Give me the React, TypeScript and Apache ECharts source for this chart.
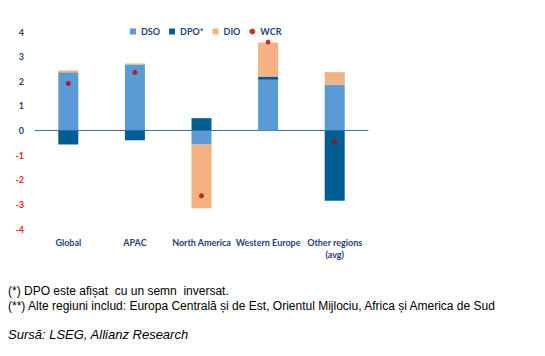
import React, { useEffect, useRef } from "react";
import * as echarts from "echarts";

const categories = ["Global", "APAC", "North America", "Western Europe", "Other regions\n(avg)"];
const dso = [2.37, 2.68, -0.57, 2.06, 1.87];
const dpo = [-0.57, -0.4, 0.5, 0.13, -2.85];
const dio = [0.07, 0.04, -2.59, 1.38, 0.5];
const wcr = [1.91, 2.36, -2.65, 3.59, -0.46];
const footnotes = [
  "(*) DPO este afișat  cu un semn  inversat.",
  "(**) Alte regiuni includ: Europa Centrală și de Est, Orientul Mijlociu, Africa și America de Sud",
];
const sourceText = "Sursă: LSEG, Allianz Research";

export default function App() {
  const ref = useRef<HTMLDivElement>(null);
  useEffect(() => {
    if (!ref.current) return;
    const chart = echarts.init(ref.current, null, { renderer: "svg" });
    const navy = "#1F3F7A";
    const font = "Lato";
    chart.setOption({
      animation: false,
      backgroundColor: "#ffffff",
      legend: {
        left: 125,
        top: 22,
        itemWidth: 6,
        itemHeight: 6,
        itemGap: 9,
        textStyle: { color: navy, fontFamily: font, fontSize: 9, fontWeight: "bold" },
        data: [
          { name: "DSO", icon: "rect" },
          { name: "DPO*", icon: "rect" },
          { name: "DIO", icon: "rect" },
          { name: "WCR", icon: "circle" },
        ],
      },
      grid: { left: 35, right: 177, top: 32, height: 197, containLabel: false },
      xAxis: {
        type: "category",
        data: categories,
        axisLine: { onZero: true, lineStyle: { color: "#4A6FA5", width: 1 } },
        axisTick: { show: false },
        axisLabel: { show: false },
      },
      yAxis: {
        type: "value",
        min: -4,
        max: 4,
        interval: 1,
        splitLine: { show: false },
        axisLine: { show: false },
        axisTick: { show: false },
        axisLabel: {
          margin: 11,
          fontFamily: font,
          fontSize: 9,
          fontWeight: "bold",
          color: (v: number) => (v < 0 ? "#FF2020" : navy),
        },
      },
      series: [
        { name: "DSO", type: "bar", stack: "a", data: dso, barWidth: 20, itemStyle: { color: "#5B9BD5" } },
        { name: "DPO*", type: "bar", stack: "a", data: dpo, barWidth: 20, itemStyle: { color: "#005E92" } },
        { name: "DIO", type: "bar", stack: "a", data: dio, barWidth: 20, itemStyle: { color: "#F4B183" } },
        {
          name: "WCR",
          type: "scatter",
          data: wcr,
          symbol: "circle",
          symbolSize: 5,
          itemStyle: { color: "#C00000" },
          z: 5,
        },
      ],
      graphic: [
        ...categories.map((c, i) => ({
          type: "text",
          x: 35 + (333 / 5) * (i + 0.5),
          y: 236,
          style: {
            text: c,
            fill: navy,
            font: `bold 9px ${font}`,
            align: "center",
            verticalAlign: "top",
            lineHeight: 12,
          },
        })),
        ...footnotes.map((t, i) => ({
          type: "text",
          x: 8,
          y: 285 + i * 15,
          style: { text: t, fill: "#000000", font: "12px 'Liberation Sans'", verticalAlign: "top" },
        })),
        {
          type: "text",
          x: 8,
          y: 328,
          style: { text: sourceText, fill: "#000000", font: "italic 13px 'Liberation Sans'", verticalAlign: "top" },
        },
      ],
    });
    return () => chart.dispose();
  }, []);
  return <div ref={ref} style={{ width: 545, height: 356, position: "absolute", left: 0, top: 0 }} />;
}
